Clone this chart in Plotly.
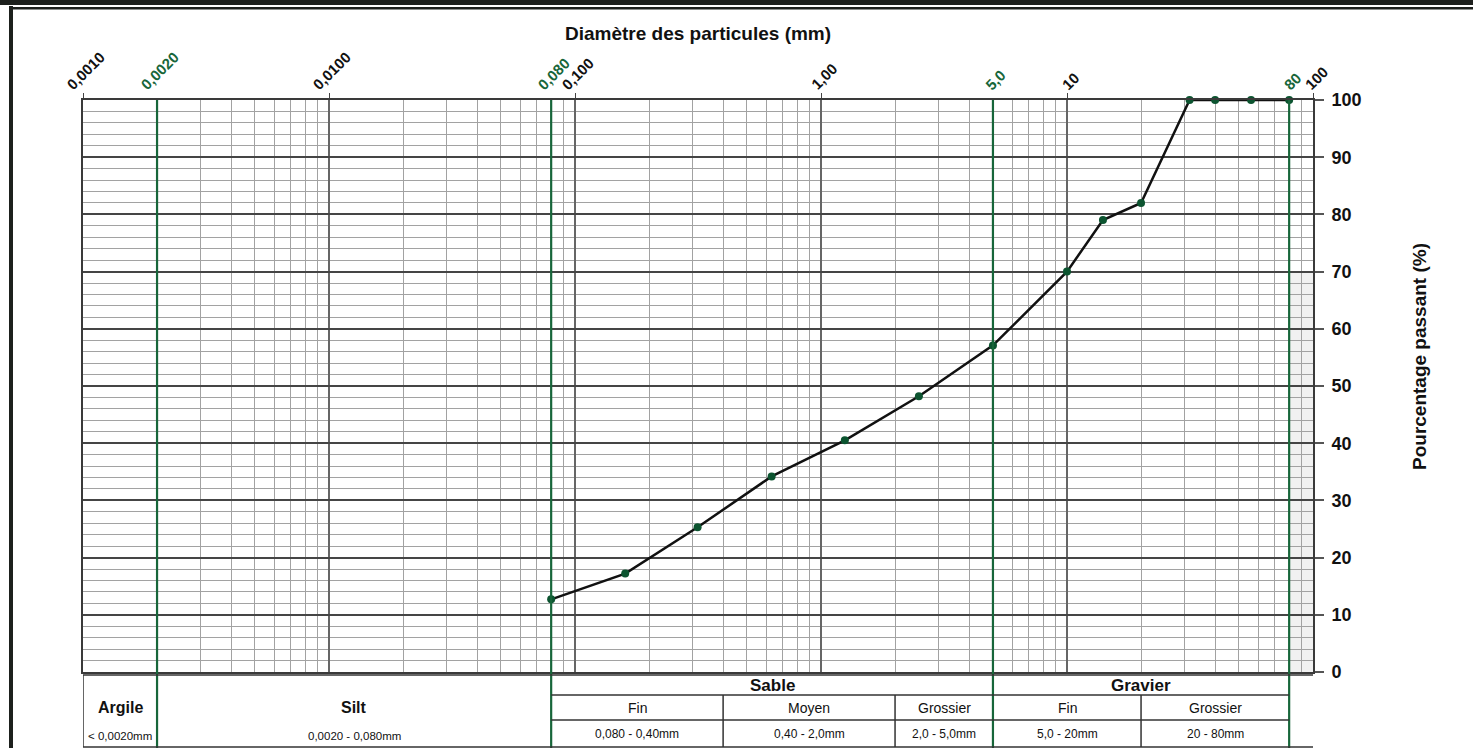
import numpy as np
import plotly.graph_objects as go

# Granulometric curve: sieve size (mm) and percent passing
diametre_mm = [0.08, 0.16, 0.315, 0.63, 1.25, 2.5, 5.0, 10, 14, 20, 31.5, 40, 56, 80]
passant_pct = [12.7, 17.2, 25.3, 34.2, 40.5, 48.2, 57.1, 70.0, 79.0, 82.0, 100, 100, 100, 100]

# Top axis labels (value, text, is_limit)
top_tick_vals = [0.001, 0.002, 0.01, 0.08, 0.1, 1.0, 5.0, 10, 80, 100]
top_tick_text = ["0,0010", "0,0020", "0,0100", "0,080", "0,100", "1,00", "5,0", "10", "80", "100"]
top_tick_limit = [False, True, False, True, False, False, True, False, True, False]

# Classification limits (mm)
limites_mm = [0.002, 0.08, 5.0, 80]
sous_limites_mm = [0.4, 2.0, 20]

# Classification table
classes = ["Argile", "Silt"]
classes_bornes = [(0.001, 0.002), (0.002, 0.08)]
classes_plages = ["< 0,0020mm", "0,0020 - 0,080mm"]
groupes = ["Sable", "Gravier"]
groupes_bornes = [(0.08, 5.0), (5.0, 80)]
sous_classes = ["Fin", "Moyen", "Grossier", "Fin", "Grossier"]
sous_bornes = [(0.08, 0.4), (0.4, 2.0), (2.0, 5.0), (5.0, 20), (20, 80)]
sous_plages = ["0,080 - 0,40mm", "0,40 - 2,0mm", "2,0 - 5,0mm", "5,0 - 20mm", "20 - 80mm"]

W, H = 1473, 748
ML, MR, MT, MB = 83, 160, 100, 76
PW, PH = W - ML - MR, H - MT - MB

GREEN = "#17663a"
MARK = "#0c5430"
DARK = "#1d201d"
INK = "#111111"
FONT = "Liberation Sans, Arial, sans-serif"


def py(px):
    """Pixel row -> paper y."""
    return (H - MB - px) / PH


def pxx(px):
    """Pixel column -> paper x."""
    return (px - ML) / PW


lg = np.log10

decades = [10.0 ** k for k in range(-3, 3)]
minor_x = [m * d for d in decades[:-1] for m in range(2, 10)]

fig = go.Figure()

fig.add_trace(go.Scatter(
    x=diametre_mm, y=passant_pct, mode="lines+markers",
    line=dict(color=INK, width=2.5),
    marker=dict(color=MARK, size=8),
    cliponaxis=False, showlegend=False, hoverinfo="x+y",
))

shapes = []

# faint shaded strip beyond the 80 mm limit
shapes.append(dict(type="rect", xref="x", yref="y", x0=80, x1=100, y0=0, y1=70,
                   fillcolor="#d8d8d8", opacity=0.35, line=dict(width=0), layer="below"))

# classification limits (green), running through the table
for v in limites_mm:
    shapes.append(dict(type="line", xref="x", yref="paper", x0=v, x1=v,
                       y0=1, y1=py(748), line=dict(color=GREEN, width=2.2)))

# table frame
t_top, t_r1, t_r2, t_bot = py(675), py(695), py(720), py(747)
x_left, x_right = 0.001, 105
tline = dict(color="#333333", width=1.5)
shapes.append(dict(type="line", xref="x", yref="paper", x0=x_left, x1=x_right, y0=t_top, y1=t_top, line=tline))
shapes.append(dict(type="line", xref="x", yref="paper", x0=x_left, x1=x_right, y0=t_bot, y1=t_bot, line=tline))
shapes.append(dict(type="line", xref="x", yref="paper", x0=x_left, x1=x_left, y0=t_top, y1=t_bot, line=tline))
shapes.append(dict(type="line", xref="x", yref="paper", x0=x_right, x1=x_right, y0=t_top, y1=t_bot, line=tline))
for yy in (t_r1, t_r2):
    shapes.append(dict(type="line", xref="x", yref="paper", x0=0.08, x1=80, y0=yy, y1=yy, line=tline))
for v in sous_limites_mm:
    shapes.append(dict(type="line", xref="x", yref="paper", x0=v, x1=v, y0=t_r1, y1=t_bot, line=tline))

# page frame
shapes.append(dict(type="rect", xref="paper", yref="paper", x0=pxx(0), x1=pxx(W), y0=py(0), y1=py(5),
                   fillcolor=DARK, line=dict(width=0)))
shapes.append(dict(type="rect", xref="paper", yref="paper", x0=pxx(10), x1=pxx(W), y0=py(7), y1=py(9.5),
                   fillcolor=DARK, line=dict(width=0)))
shapes.append(dict(type="rect", xref="paper", yref="paper", x0=pxx(9), x1=pxx(13), y0=py(6), y1=py(H),
                   fillcolor=DARK, line=dict(width=0)))

annotations = []

# rotated diameter labels above the grid (annotation x is in log units on a log axis)
for v, t, lim in zip(top_tick_vals, top_tick_text, top_tick_limit):
    annotations.append(dict(
        x=lg(v), y=1, xref="x", yref="paper", text=f"<b>{t}</b>", showarrow=False,
        textangle=-45, xanchor="center", yanchor="bottom", yshift=4, xshift=3,
        font=dict(family=FONT, size=15, color=GREEN if lim else INK),
    ))

annotations.append(dict(x=pxx(698), y=py(33), xref="paper", yref="paper",
                        text="<b>Diamètre des particules (mm)</b>", showarrow=False,
                        font=dict(family=FONT, size=19, color=INK),
                        xanchor="center", yanchor="middle"))
annotations.append(dict(x=pxx(1419), y=py(357), xref="paper", yref="paper",
                        text="<b>Pourcentage passant (%)</b>", showarrow=False, textangle=-90,
                        font=dict(family=FONT, size=19, color=INK),
                        xanchor="center", yanchor="middle"))


def mid(a, b):
    return (lg(a) + lg(b)) / 2


def cell_text(x, ypx, text, size):
    return dict(x=x, y=py(ypx), xref="x", yref="paper", text=text, showarrow=False,
                xanchor="center", yanchor="middle",
                font=dict(family=FONT, size=size, color=INK))


for name, (a, b), plage in zip(classes, classes_bornes, classes_plages):
    annotations.append(cell_text(mid(a, b), 707, f"<b>{name}</b>", 16))
    annotations.append(cell_text(mid(a, b), 736, plage, 11.5))
for name, (a, b) in zip(groupes, groupes_bornes):
    annotations.append(cell_text(mid(a, b), 685, f"<b>{name}</b>", 17))
for name, (a, b), plage in zip(sous_classes, sous_bornes, sous_plages):
    annotations.append(cell_text(mid(a, b), 708, name, 14))
    annotations.append(cell_text(mid(a, b), 734, plage, 12))

fig.update_layout(
    width=W, height=H,
    margin=dict(l=ML, r=MR, t=MT, b=MB, pad=0),
    paper_bgcolor="white", plot_bgcolor="white",
    showlegend=False,
    shapes=shapes, annotations=annotations,
    xaxis=dict(
        type="log", range=[-3, 2], side="top",
        tickvals=decades, showticklabels=False,
        ticks="outside", ticklen=5, tickcolor="#444444",
        showgrid=True, gridcolor="#666666", gridwidth=1.5,
        minor=dict(tickvals=minor_x, showgrid=True, gridcolor="#a2a2a2", gridwidth=1, ticks=""),
        showline=True, linecolor="#3a3a3a", linewidth=2, mirror=True,
        zeroline=False, fixedrange=True,
    ),
    yaxis=dict(
        range=[0, 100], side="right",
        tickvals=list(range(0, 101, 10)),
        ticks="outside", ticklen=9, tickcolor="#555555", tickwidth=2,
        tickfont=dict(family=FONT, size=18, color=INK, weight="bold"),
        ticklabelstandoff=4,
        showgrid=True, gridcolor="#454545", gridwidth=2,
        minor=dict(dtick=2, showgrid=True, gridcolor="#a2a2a2", gridwidth=1, ticks=""),
        showline=True, linecolor="#3a3a3a", linewidth=2, mirror=True,
        zeroline=False, fixedrange=True,
    ),
)

fig.write_html("out.html")
